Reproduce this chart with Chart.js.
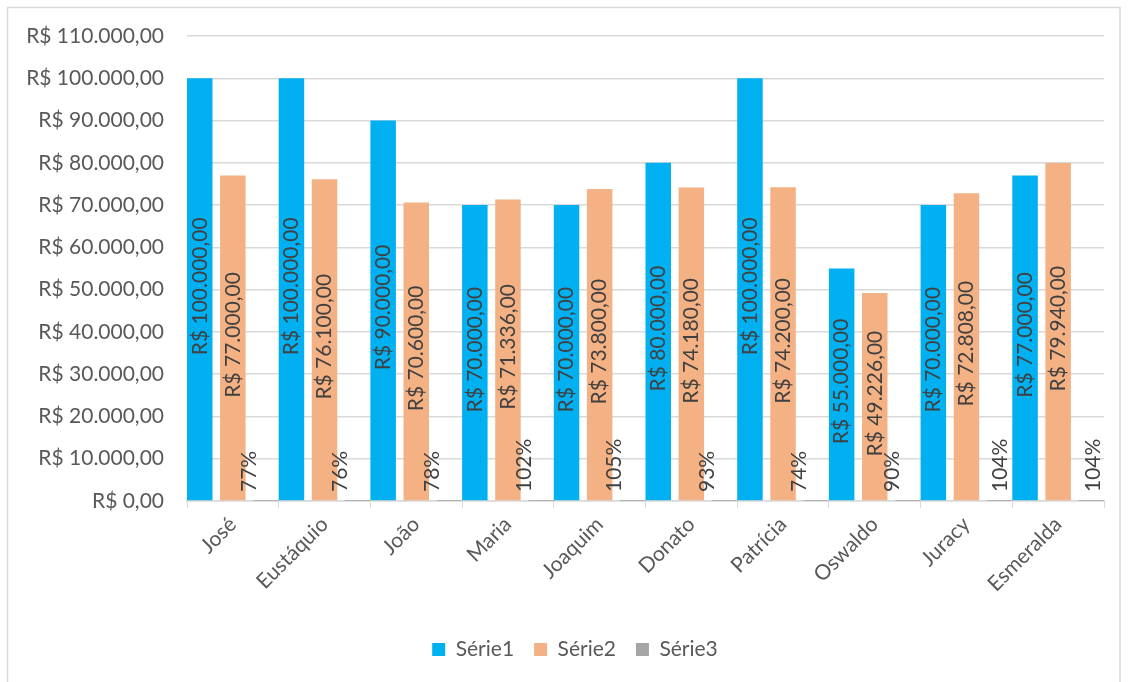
<!DOCTYPE html>
<html>
<head>
<meta charset="utf-8">
<script src="https://cdn.jsdelivr.net/npm/chart.js@4/dist/chart.umd.min.js"></script>
<style>
html,body{margin:0;padding:0;background:#fff;}
#wrap{position:relative;width:1128px;height:682px;}
</style>
</head>
<body>
<div id="wrap"><canvas id="c" width="1128" height="682"></canvas></div>
<script>
const categories = ['José','Eustáquio','João','Maria','Joaquim','Donato','Patrícia','Oswaldo','Juracy','Esmeralda'];
const serie1 = [100000,100000,90000,70000,70000,80000,100000,55000,70000,77000];
const serie2 = [77000,76100,70600,71336,73800,74180,74200,49226,72808,79940];
const serie3 = [0.77,0.76,0.78,1.02,1.05,0.93,0.74,0.90,1.04,1.04];
const seriesNames = ['Série1','Série2','Série3'];
const yMin = 0, yMax = 110000, yStep = 10000;

const FONT = 'Lato, "Open Sans", sans-serif';
const FS = 21;
const PAD_LEFT = 8;
const LEGEND_SHIFT = 19;

function brl(v){
  const s = Math.round(v).toString().replace(/\B(?=(\d{3})+(?!\d))/g,'.');
  return 'R$ ' + s + ',00';
}

const borderPlugin = {
  id:'frame',
  afterLayout(chart){
    if (chart.legend) {
      chart.legend.left += LEGEND_SHIFT;
      chart.legend.right += LEGEND_SHIFT;
    }
  },
  beforeDraw(chart){
    const ctx = chart.ctx;
    ctx.save();
    ctx.strokeStyle = '#d9d9d9';
    ctx.lineWidth = 1.5;
    ctx.beginPath();
    ctx.moveTo(7.5, 682);
    ctx.lineTo(7.5, 7.5);
    ctx.lineTo(1120, 7.5);
    ctx.lineTo(1120, 682);
    ctx.stroke();
    ctx.restore();
  }
};

const labelPlugin = {
  id:'barLabels',
  afterDatasetsDraw(chart, args, opts){
    const ctx = chart.ctx;
    const yScale = chart.scales.y;
    ctx.save();
    ctx.font = FS + 'px ' + FONT;
    ctx.fillStyle = '#404040';
    chart.data.datasets.forEach((ds, di) => {
      const meta = chart.getDatasetMeta(di);
      meta.data.forEach((bar, i) => {
        const v = ds.data[i];
        ctx.save();
        if (di < 2) {
          const text = brl(v);
          const cy = (bar.y + bar.base) / 2 - 3;
          ctx.translate(bar.x, cy);
          ctx.rotate(-Math.PI/2);
          ctx.textAlign = 'center';
          ctx.textBaseline = 'middle';
          ctx.fillText(text, 0, 0);
        } else {
          const text = Math.round(v*100) + '%';
          const dx = (opts.pctShift && opts.pctShift[i]) || 0;
          ctx.translate(bar.x + dx, yScale.getPixelForValue(0) - 9);
          ctx.rotate(-Math.PI/2);
          ctx.textAlign = 'left';
          ctx.textBaseline = 'middle';
          ctx.fillText(text, 0, 0);
        }
        ctx.restore();
      });
    });
    ctx.restore();
  }
};

new Chart(document.getElementById('c'), {
  type:'bar',
  data:{
    labels: categories,
    datasets:[
      {label:seriesNames[0], data:serie1, backgroundColor:'#00b0f0', categoryPercentage:1.083, barPercentage:0.77},
      {label:seriesNames[1], data:serie2, backgroundColor:'#f4b183', categoryPercentage:1.083, barPercentage:0.77},
      {label:seriesNames[2], data:serie3, backgroundColor:'#a5a5a5', categoryPercentage:1.083, barPercentage:0.77}
    ]
  },
  options:{
    responsive:false,
    animation:false,
    layout:{padding:{left:PAD_LEFT, top:36, right:24, bottom:12}},
    plugins:{
      legend:{
        position:'bottom',
        labels:{font:{family:FONT, size:FS}, color:'#595959', boxWidth:13, boxHeight:13, padding:20}
      },
      tooltip:{enabled:false},
      barLabels:{pctShift:[-17,-17,-17,-17,-19,-17,-17,-16,1,2]}
    },
    scales:{
      x:{
        grid:{display:true, drawOnChartArea:false, color:'#d9d9d9', tickLength:7, offset:true},
        border:{color:'#d9d9d9', width:1.5},
        ticks:{font:{family:FONT, size:FS}, color:'#595959', minRotation:45, maxRotation:45, padding:4},
        afterFit(scale){ scale.height = 118; }
      },
      y:{
        min:yMin, max:yMax,
        grid:{color:'#d9d9d9', lineWidth:1.5, drawTicks:false},
        border:{display:false},
        ticks:{stepSize:yStep, font:{family:FONT, size:FS}, color:'#595959', padding:23,
          callback:(v)=>brl(v)},
        afterFit(scale){ scale.width = 187 - PAD_LEFT; }
      }
    }
  },
  plugins:[borderPlugin, labelPlugin]
});
</script>
</body>
</html>
